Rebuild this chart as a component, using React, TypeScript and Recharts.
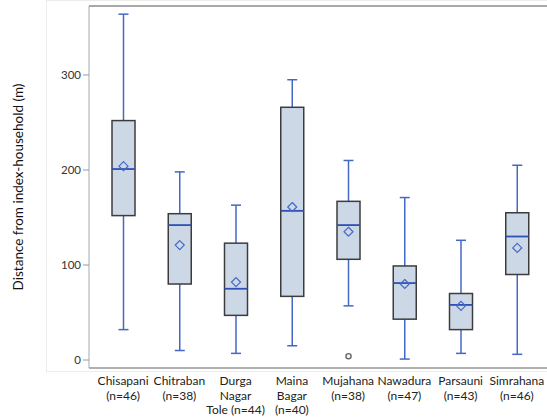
import { ComposedChart, Bar, XAxis, YAxis, ReferenceLine } from "recharts";

const categories = ["Chisapani", "Chitraban", "Durga Nagar Tole", "Maina Bagar", "Mujahana", "Nawadura", "Parsauni", "Simrahana"];
const tickLines = [
  ["Chisapani", "(n=46)"],
  ["Chitraban", "(n=38)"],
  ["Durga", "Nagar", "Tole (n=44)"],
  ["Maina", "Bagar", "(n=40)"],
  ["Mujahana", "(n=38)"],
  ["Nawadura", "(n=47)"],
  ["Parsauni", "(n=43)"],
  ["Simrahana", "(n=46)"],
];
const mins = [32, 10, 7, 15, 57, 1, 7, 6];
const q1s = [152, 80, 47, 67, 106, 43, 32, 90];
const medians = [201, 142, 75, 157, 142, 81, 58, 130];
const q3s = [252, 154, 123, 266, 167, 99, 70, 155];
const maxs = [364, 198, 163, 295, 210, 171, 126, 205];
const means = [204, 121, 82, 161, 135, 80, 57, 118];
const outliers: number[][] = [[], [], [], [], [4], [], [], []];
const yTicks = [0, 100, 200, 300];

const data = categories.map((name, i) => ({
  name,
  lines: tickLines[i],
  range: [mins[i], maxs[i]],
  min: mins[i],
  q1: q1s[i],
  median: medians[i],
  q3: q3s[i],
  max: maxs[i],
  mean: means[i],
  outliers: outliers[i],
}));

const FONT = "Lato, 'Open Sans', sans-serif";
const WHISKER = "#4468c4";

// draws whiskers, box, median, mean and outliers from the bar's own scaled geometry
const BoxShape = (props: any) => {
  const { x, y, width, height, payload } = props;
  const p = payload;
  const ppu = height / (p.max - p.min);
  const yOf = (v: number) => y + (p.max - v) * ppu;
  const cx = x + width / 2;
  const cap = 5;
  const d = 4.5;
  const my = yOf(p.mean);
  return (
    <g>
      <line x1={cx} x2={cx} y1={yOf(p.max)} y2={yOf(p.min)} stroke={WHISKER} strokeWidth={1.5} />
      <line x1={cx - cap} x2={cx + cap} y1={yOf(p.max)} y2={yOf(p.max)} stroke={WHISKER} strokeWidth={1.5} />
      <line x1={cx - cap} x2={cx + cap} y1={yOf(p.min)} y2={yOf(p.min)} stroke={WHISKER} strokeWidth={1.5} />
      <rect x={x} y={yOf(p.q3)} width={width} height={yOf(p.q1) - yOf(p.q3)} fill="#cdd8e7" stroke="#3c3c3c" strokeWidth={1.5} />
      <line x1={x} x2={x + width} y1={yOf(p.median)} y2={yOf(p.median)} stroke="#2f50b4" strokeWidth={1.8} />
      <path d={`M${cx},${my - d}L${cx + d},${my}L${cx},${my + d}L${cx - d},${my}Z`} fill="none" stroke={WHISKER} strokeWidth={1.2} />
      {p.outliers.map((o: number, k: number) => (
        <circle key={k} cx={cx} cy={yOf(o)} r={2.6} fill="#f4f4f4" stroke="#666" strokeWidth={1.4} />
      ))}
    </g>
  );
};

const CategoryTick = (props: any) => {
  const { x, y, payload, index } = props;
  const lines = data[index]?.lines ?? [payload.value];
  return (
    <g>
      {lines.map((l: string, k: number) => (
        <text key={k} x={x} y={y + 9 + k * 14.5} textAnchor="middle" fontSize={12} fontFamily={FONT} fill="#222">
          {l}
        </text>
      ))}
    </g>
  );
};

const YLabel = (props: any) => {
  const vb = props.viewBox;
  const cy = vb.y + vb.height / 2;
  return (
    <text x={18} y={cy} transform={`rotate(-90, 18, ${cy})`} textAnchor="middle" dominantBaseline="central" fontSize={13.5} fontFamily={FONT} fill="#111">
      Distance from index-household (m)
    </text>
  );
};

export default function App() {
  return (
    <div style={{ position: "absolute", left: 0, top: 0, width: 547, height: 418, background: "#fff" }}>
      <div style={{ position: "absolute", left: 46, top: 0, width: 510, height: 370, border: "1px solid #ececec" }} />
      <div style={{ position: "absolute", left: 0, top: 0 }}>
        <ComposedChart width={547} height={418} data={data} margin={{ top: 6, right: 0, bottom: 0, left: 0 }}>
          <XAxis
            dataKey="name"
            interval={0}
            height={50}
            padding={{ left: 6, right: 2 }}
            tickLine={false}
            axisLine={{ stroke: "#b0b0b0", strokeWidth: 2 }}
            tick={<CategoryTick />}
          />
          <YAxis
            width={89}
            domain={[-8.4, 372.6]}
            ticks={yTicks}
            allowDataOverflow
            tickSize={6}
            tickLine={{ stroke: "#999" }}
            axisLine={{ stroke: "#a8a8a8" }}
            tick={{ fontSize: 11.5, fontFamily: FONT, fill: "#333" }}
            label={<YLabel />}
          />
          <ReferenceLine y={372.6} stroke="#a8a8a8" strokeWidth={2} />
          <Bar dataKey="range" barSize={23} shape={<BoxShape />} isAnimationActive={false} />
        </ComposedChart>
      </div>
    </div>
  );
}
